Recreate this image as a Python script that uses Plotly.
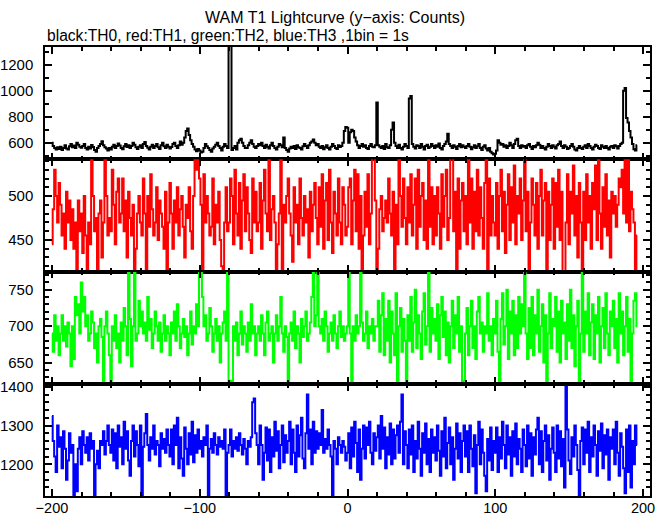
import plotly.graph_objects as go
from plotly.subplots import make_subplots

# ---------------- data (counts per 1 s bin, starting at t = -200 s) ----------------
t_start = -200

th0 = [
    600,575,560,548,565,552,570,545,560,580,555,548,572,590,565,578,560,600,585,570,
    562,575,590,560,548,570,555,582,568,545,530,560,575,590,612,580,565,555,540,560,
    548,570,585,560,575,595,578,560,550,572,590,568,580,560,575,600,585,565,552,570,
    580,560,590,605,575,562,548,570,585,560,575,590,565,552,580,600,572,560,585,570,
    555,568,590,600,575,560,580,610,585,600,640,690,710,660,620,590,570,548,535,552,
    540,525,530,560,590,572,560,545,530,555,570,585,600,575,560,540,570,590,575,560,
    1400,1420,545,560,575,548,600,620,630,600,575,560,560,580,600,620,590,570,560,575,
    590,580,600,575,560,585,570,555,580,600,575,560,548,570,590,580,565,640,560,545,
    530,555,570,560,575,552,580,565,560,548,572,590,575,560,580,600,610,625,600,580,
    590,570,560,575,550,565,580,560,548,570,590,575,560,552,580,568,575,600,690,720,
    715,600,680,700,690,640,610,580,560,575,590,570,580,560,552,575,590,570,565,580,
    910,580,570,560,575,552,590,565,560,580,700,755,600,575,560,585,560,548,570,590,
    575,560,940,960,590,570,555,580,575,560,590,570,548,575,585,560,570,590,575,560,
    580,570,595,560,548,575,590,610,670,590,575,560,580,570,552,575,590,565,580,570,
    560,575,590,570,550,565,580,560,572,590,560,545,570,580,555,540,560,530,520,510,
    515,540,620,600,585,590,570,580,560,575,600,580,560,590,620,630,575,560,580,570,
    575,560,580,590,570,552,575,565,580,600,585,560,575,560,548,570,590,575,560,580,
    570,555,580,590,610,575,560,580,570,552,560,575,590,570,548,540,560,575,560,552,
    570,580,560,590,575,560,548,570,585,575,560,552,580,570,560,575,560,548,570,575,
    560,580,572,555,575,590,600,1000,1020,790,755,690,640,590,550,540,580,
]

th1 = [
    445,485,530,500,470,515,490,455,480,440,505,470,495,450,485,440,470,410,495,460,
    480,435,500,455,410,470,445,545,500,460,475,410,480,495,430,470,545,500,455,475,
    460,530,490,445,505,520,470,480,520,460,495,430,505,475,455,490,410,440,480,500,
    470,455,520,480,410,500,465,525,485,455,470,510,450,495,480,465,440,505,410,470,
    515,480,440,495,470,510,455,485,500,465,430,490,475,510,460,440,500,545,530,545,
    520,490,410,525,470,500,480,455,465,520,445,490,470,505,450,420,410,470,510,460,
    470,520,500,445,530,480,455,515,440,495,525,460,510,480,450,435,520,470,505,460,
    470,515,440,495,530,480,460,545,450,485,500,470,410,445,480,545,410,490,470,500,
    520,480,455,425,510,470,490,445,520,475,455,500,470,485,430,505,460,490,515,475,
    445,510,465,525,440,495,515,450,530,470,435,505,480,455,520,470,445,510,490,455,
    465,510,520,445,495,530,460,525,440,500,410,455,505,465,525,445,480,545,545,495,
    410,440,485,500,460,475,495,470,520,480,455,505,410,490,445,545,500,465,520,475,
    445,510,470,525,455,490,520,440,530,465,500,515,450,495,440,545,465,510,445,500,
    455,510,480,440,525,465,500,530,450,475,545,545,460,505,410,520,440,495,515,460,
    500,445,545,470,520,440,505,460,530,455,510,475,440,515,545,410,520,455,500,470,
    455,515,440,500,530,460,505,435,490,525,450,510,470,535,445,500,480,520,450,495,
    545,460,505,410,470,520,490,455,515,440,500,530,455,495,515,410,505,450,490,520,
    440,515,465,530,450,505,410,410,470,525,445,505,480,535,455,500,430,515,470,410,
    505,450,525,470,500,440,515,485,535,450,545,480,440,510,465,525,455,495,430,505,
    480,500,465,490,520,510,530,480,545,470,545,460,505,485,470,410,455,
]

th2 = [
    690,665,715,680,700,660,690,715,680,700,672,705,690,645,700,655,740,715,730,690,
    760,720,740,700,715,680,690,720,705,670,690,650,700,710,685,620,700,720,690,660,
    620,700,680,715,670,690,650,705,680,725,700,660,780,710,645,700,780,680,690,735,
    700,720,690,705,680,740,695,710,670,690,720,700,680,705,665,690,715,680,700,690,
    660,705,690,720,680,730,700,670,690,710,685,700,660,690,720,675,700,690,730,700,
    780,780,740,700,715,680,690,725,700,665,690,710,680,700,650,690,705,720,680,780,
    620,625,620,700,680,705,660,690,720,675,700,690,665,705,680,730,690,700,660,690,
    700,680,715,690,660,705,720,680,690,700,650,690,715,680,700,740,690,665,700,685,
    620,690,705,680,720,670,700,690,650,710,685,700,720,680,690,705,740,780,700,715,
    780,700,690,710,680,720,700,665,690,705,680,715,690,670,700,720,685,700,680,690,
    700,780,690,620,700,680,715,690,700,780,705,680,690,720,670,700,690,710,680,700,
    700,735,665,715,745,660,710,680,735,650,720,690,660,745,620,700,725,665,710,680,
    620,715,680,740,665,705,750,670,715,690,655,720,745,675,700,780,665,725,690,710,
    680,730,655,715,740,685,720,660,705,650,700,735,670,715,690,740,665,700,620,625,
    690,725,660,700,735,670,700,655,720,740,690,705,665,700,690,745,680,700,660,710,
    690,735,665,620,710,745,675,700,750,655,720,690,735,660,715,670,740,690,730,700,
    780,690,655,725,670,740,660,715,690,750,665,700,730,650,715,620,690,745,670,710,
    700,740,665,720,650,735,690,705,655,730,680,750,670,715,645,700,735,620,690,780,
    665,720,690,745,660,705,730,655,715,690,740,650,700,725,670,745,690,660,720,700,
    735,670,710,650,745,690,720,660,700,740,665,710,620,690,735,745,700,
]

th3 = [
    1325,1260,1220,1180,1300,1245,1270,1190,1285,1240,1160,1210,1280,1230,1250,1120,1200,1130,1240,1270,
    1200,1285,1250,1230,1270,1210,1280,1240,1260,1120,1200,1235,1190,1260,1250,1285,1225,1260,1300,1250,
    1230,1290,1210,1280,1190,1300,1245,1270,1200,1310,1240,1285,1210,1170,1260,1300,1220,1285,1250,1195,
    1300,1120,1245,1280,1330,1250,1210,1270,1240,1300,1225,1260,1250,1195,1280,1240,1265,1230,1290,1250,
    1220,1290,1200,1300,1250,1320,1190,1270,1215,1170,1295,1240,1200,1280,1225,1310,1205,1275,1230,1290,
    1240,1260,1220,1270,1250,1300,1120,1240,1265,1230,1280,1250,1225,1270,1245,1260,1240,1290,1120,1230,
    1250,1290,1220,1260,1240,1270,1235,1280,1250,1225,1265,1240,1200,1260,1245,1270,1360,1370,1280,1250,
    1200,1300,1250,1160,1230,1295,1210,1290,1180,1270,1220,1310,1235,1285,1190,1250,1300,1205,1275,1230,
    1260,1310,1200,1290,1230,1180,1300,1220,1275,1320,1215,1190,1280,1380,1240,1290,1200,1310,1230,1285,
    1240,1280,1250,1340,1230,1265,1240,1290,1250,1220,1120,1260,1240,1200,1270,1250,1230,1260,1245,1210,
    1230,1280,1190,1295,1220,1310,1255,1180,1290,1160,1240,1300,1215,1295,1250,1310,1230,1200,1280,1235,
    1270,1300,1215,1325,1240,1295,1190,1270,1225,1305,1200,1290,1215,1275,1300,1230,1310,1380,1200,1285,
    1250,1190,1290,1225,1300,1180,1260,1215,1310,1240,1170,1280,1230,1305,1200,1265,1180,1290,1230,1270,
    1210,1300,1235,1170,1285,1220,1320,1190,1255,1295,1200,1270,1160,1240,1305,1215,1280,1180,1260,1300,
    1220,1285,1180,1300,1240,1195,1275,1125,1250,1310,1200,1290,1230,1170,1130,1265,1210,1295,1185,1260,
    1230,1295,1180,1270,1215,1310,1250,1190,1300,1225,1270,1170,1285,1220,1305,1200,1265,1240,1180,1290,
    1250,1195,1300,1215,1280,1170,1270,1225,1290,1320,1200,1285,1180,1260,1300,1210,1275,1160,1240,1295,
    1230,1180,1300,1215,1285,1195,1265,1140,1400,1290,1210,1175,1270,1220,1300,1250,1185,1120,1260,1295,
    1200,1290,1230,1310,1180,1270,1220,1300,1250,1170,1285,1235,1305,1190,1275,1225,1290,1160,1270,1240,
    1290,1200,1310,1230,1170,1280,1245,1190,1125,1290,1180,1300,1140,1260,1200,1300,1250,
]

series = [th0, th1, th2, th3]
colors = ["#000000", "#ff0000", "#00ff00", "#0000ff"]
y_ranges = [[473, 1336], [414, 542], [621, 775], [1118, 1408]]
y_dticks = [200, 50, 50, 100]
y_minor = [100, 10, 10, 20]
x_ticks = [-200, -100, 0, 100, 200]

title_text = "WAM T1 Lightcurve (y\u2212axis: Counts)"
subtitle_text = "black:TH0, red:TH1, green:TH2, blue:TH3 ,1bin = 1s"

# ---------------- figure ----------------
fig = make_subplots(rows=4, cols=1, shared_xaxes=True, vertical_spacing=0)

for i, (vals, col) in enumerate(zip(series, colors)):
    xs = list(range(t_start, t_start + len(vals)))
    fig.add_trace(
        go.Scatter(x=xs, y=vals, mode="lines",
                   line=dict(color=col, width=2, shape="hvh"),
                   showlegend=False, hoverinfo="skip"),
        row=i + 1, col=1)

font_family = "Liberation Sans, Arial, sans-serif"

for i in range(4):
    fig.update_yaxes(
        range=y_ranges[i], dtick=y_dticks[i], tick0=0,
        ticks="inside", ticklen=7, tickwidth=2, tickcolor="black",
        showline=True, linecolor="black", linewidth=1.5, mirror="allticks",
        showgrid=False, zeroline=False, automargin=False,
        tickfont=dict(family=font_family, size=15, color="black"),
        minor=dict(dtick=y_minor[i], tick0=0, ticks="inside", ticklen=4,
                   tickwidth=1.5, tickcolor="black", showgrid=False),
        ticklabelstandoff=7,
        row=i + 1, col=1)
    fig.update_xaxes(
        range=[-204.7, 204.7], tickvals=x_ticks,
        ticks="inside", ticklen=7, tickwidth=2, tickcolor="black",
        showline=True, linecolor="black", linewidth=1.5, mirror="allticks",
        showgrid=False, zeroline=False, automargin=False,
        tickfont=dict(family=font_family, size=14.5, color="black"),
        minor=dict(dtick=20, tick0=0, ticks="inside", ticklen=4,
                   tickwidth=1.5, tickcolor="black", showgrid=False),
        ticklabelstandoff=-2,
        row=i + 1, col=1)

fig.add_annotation(text=title_text, xref="paper", yref="paper",
                   x=0.479, y=1.0646, xanchor="center", yanchor="middle",
                   showarrow=False, font=dict(family=font_family, size=16, color="black"))
fig.add_annotation(text=subtitle_text, xref="paper", yref="paper",
                   x=0.0, y=1.0245, xanchor="left", yanchor="middle",
                   showarrow=False, font=dict(family=font_family, size=15.6, color="black"))

fig.update_layout(
    width=669, height=515,
    margin=dict(l=45, r=19, t=47, b=19),
    paper_bgcolor="white", plot_bgcolor="white",
)

# remove the browser's default 8 px page margin so the figure sits at the window origin
fig.write_html("out.html", config={"displayModeBar": False},
               post_script="document.body.style.margin='0';")
